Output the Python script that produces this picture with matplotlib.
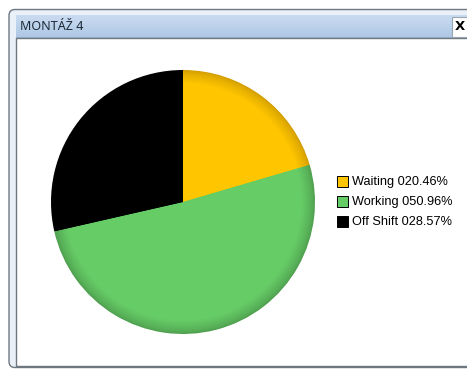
import numpy as np
import matplotlib
matplotlib.use('Agg')
import matplotlib.pyplot as plt
from matplotlib.patches import Rectangle, FancyBboxPatch
from matplotlib.colors import to_rgb

# Shift state shares for the station
labels = ['Waiting', 'Working', 'Off Shift']
shares = [20.46, 50.96, 28.57]
colors = ['#FFC600', '#66CC66', '#000000']
edge_colors = ['#D29E00', '#4F9F4F', '#000000']
window_title = 'MONTÁŽ 4'

W, H = 467, 370
fig = plt.figure(figsize=(W / 100, H / 100), dpi=100)
fig.patch.set_facecolor('white')

# window chrome drawn in pixel coordinates (y grows downward)
chrome = fig.add_axes([0, 0, 1, 1])
chrome.set_xlim(0, W)
chrome.set_ylim(H, 0)
chrome.axis('off')

chrome.add_patch(FancyBboxPatch((9, 9.5), 470, 358, boxstyle='round,pad=0,rounding_size=6',
                                facecolor='#E9F0F8', edgecolor='#6E7780', linewidth=1.0))
# title bar gradient
bar = np.linspace(0, 1, 40).reshape(-1, 1)
top, bottom = np.array(to_rgb('#C9DBF0')), np.array(to_rgb('#AFC8E6'))
grad = top + (bottom - top) * bar[..., None]
chrome.imshow(grad.reshape(40, 1, 3), extent=(16, 470, 37, 15), aspect='auto', zorder=2)
chrome.plot([16, 470], [37, 37], color='#93A9C2', linewidth=0.8, zorder=3)

# content area
chrome.add_patch(Rectangle((16, 38), 460, 327.5, facecolor='white', edgecolor='#6E7780',
                           linewidth=1.0, zorder=2))

# close button
chrome.add_patch(Rectangle((452, 16.5), 20, 20, facecolor='white', edgecolor='#9AA5B1',
                           linewidth=0.8, zorder=3))
chrome.text(460, 26.5, 'X', fontsize=9.5, fontweight='bold', ha='center', va='center',
            color='black', family='DejaVu Sans', zorder=4)
chrome.text(20, 26.5, window_title, fontsize=9, ha='left', va='center', color='#1E2A38',
            family='Noto Sans', zorder=4)

# pie with shaded rim
cx, cy, r = 183, 202, 132
pie_ax = fig.add_axes([(cx - r) / W, (H - cy - r) / H, 2 * r / W, 2 * r / H])
pie_ax.axis('off')

steps = 16
for k in range(steps):
    t = k / (steps - 1)
    radius = 1.0 - 0.1 * t
    mix = min(1.0, t ** 0.7)
    ring = [tuple(np.array(to_rgb(e)) * (1 - mix) + np.array(to_rgb(c)) * mix)
            for c, e in zip(colors, edge_colors)]
    pie_ax.pie(shares, colors=ring, startangle=90, counterclock=False, radius=radius,
               wedgeprops=dict(linewidth=0), normalize=True)

pie_ax.set_xlim(-1, 1)
pie_ax.set_ylim(-1, 1)
pie_ax.set_aspect('equal')

# legend
rows = [182, 202, 222]
for lab, val, col, y in zip(labels, shares, colors, rows):
    chrome.add_patch(Rectangle((337, y - 6), 11, 11, facecolor=col, edgecolor='black',
                               linewidth=0.7, zorder=3))
    chrome.text(352, y, f'{lab} {val:06.2f}%', fontsize=9.2, ha='left', va='center',
                color='black', family='Liberation Sans', zorder=3)

fig.savefig('out.png', dpi=100)
